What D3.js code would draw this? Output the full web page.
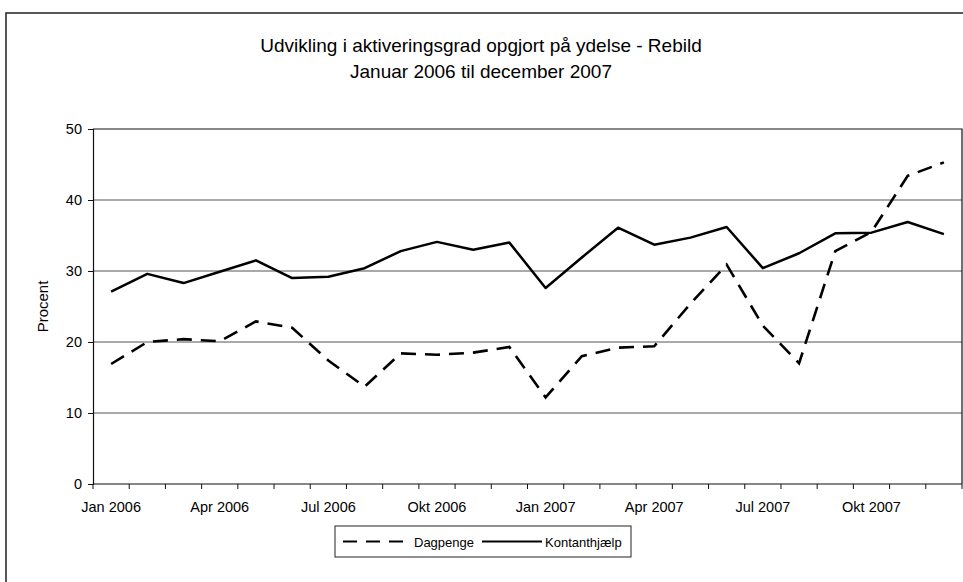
<!DOCTYPE html>
<html>
<head>
<meta charset="utf-8">
<script src="https://cdn.jsdelivr.net/npm/d3@7"></script>
<style>
  html, body { margin: 0; padding: 0; background: #fff; }
  svg { display: block; }
  text { font-family: "Liberation Sans", Arial, sans-serif; fill: #000; }
</style>
</head>
<body>
<svg id="chart" width="963" height="582"></svg>
<script>
// ---- data ----
const months = ["Jan 2006","Feb 2006","Mar 2006","Apr 2006","Maj 2006","Jun 2006",
                "Jul 2006","Aug 2006","Sep 2006","Okt 2006","Nov 2006","Dec 2006",
                "Jan 2007","Feb 2007","Mar 2007","Apr 2007","Maj 2007","Jun 2007",
                "Jul 2007","Aug 2007","Sep 2007","Okt 2007","Nov 2007","Dec 2007"];
const dagpenge = [16.9, 20.0, 20.4, 20.1, 22.9, 22.0, 17.4, 13.7, 18.4, 18.2, 18.5, 19.3,
                  12.2, 18.0, 19.2, 19.4, 25.4, 30.9, 22.3, 17.0, 32.8, 35.5, 43.4, 45.3];
const kontanthjaelp = [27.1, 29.6, 28.3, 29.9, 31.5, 29.0, 29.2, 30.4, 32.8, 34.1, 33.0, 34.0,
                       27.6, 31.9, 36.1, 33.7, 34.7, 36.2, 30.4, 32.5, 35.3, 35.4, 36.9, 35.2];
const xTickLabels = ["Jan 2006","Apr 2006","Jul 2006","Okt 2006","Jan 2007","Apr 2007","Jul 2007","Okt 2007"];
const yTicks = [0, 10, 20, 30, 40, 50];
const seriesNames = ["Dagpenge", "Kontanthjælp"];
const titleLines = ["Udvikling i aktiveringsgrad opgjort på ydelse - Rebild", "Januar 2006 til december 2007"];
const yTitle = "Procent";

// ---- layout ----
const svg = d3.select("#chart");
const plot = { left: 93, right: 962, top: 129, bottom: 484 };
const FONT = "Liberation Sans, Arial, sans-serif";

const x = d3.scaleBand().domain(months).range([plot.left, plot.right]).padding(0);
const y = d3.scaleLinear().domain([0, 50]).range([plot.bottom, plot.top]);
const cx = d => x(d) + x.bandwidth() / 2;

// outer frame
svg.append("path")
  .attr("d", `M6,590 L6,13 L970,13`)
  .attr("fill", "none").attr("stroke", "#222").attr("stroke-width", 1.5);

// title
svg.append("g").selectAll("text").data(titleLines).join("text")
  .attr("x", 481).attr("y", (d, i) => 52 + i * 26)
  .attr("text-anchor", "middle").attr("font-size", 19)
  .text(d => d);

// gridlines
svg.append("g").selectAll("line").data(yTicks.filter(t => t > 0 && t < 50)).join("line")
  .attr("x1", plot.left).attr("x2", plot.right)
  .attr("y1", d => y(d)).attr("y2", d => y(d))
  .attr("stroke", "#555").attr("stroke-width", 1);

// plot frame (top and right)
svg.append("path")
  .attr("d", `M${plot.left},${plot.top} L${plot.right},${plot.top} L${plot.right},${plot.bottom}`)
  .attr("fill", "none").attr("stroke", "#111").attr("stroke-width", 1.2);

// y axis
const yAxis = d3.axisLeft(y).tickValues(yTicks).tickSize(5).tickPadding(6);
const gy = svg.append("g").attr("transform", `translate(${plot.left},0)`).call(yAxis);
gy.select(".domain").attr("stroke", "#111").attr("stroke-width", 1.2);
gy.selectAll(".tick line").attr("stroke", "#111");
gy.selectAll("text").attr("font-size", 14.5).attr("font-family", FONT);

// x axis: labels
const xAxis = d3.axisBottom(x).tickValues(xTickLabels).tickSize(0).tickPadding(18);
const gx = svg.append("g").attr("transform", `translate(0,${plot.bottom})`).call(xAxis);
gx.select(".domain").remove();
gx.selectAll("text").attr("font-size", 14.5).attr("font-family", FONT);

// x axis line and tick marks at category boundaries
svg.append("line").attr("x1", plot.left).attr("x2", plot.right)
  .attr("y1", plot.bottom).attr("y2", plot.bottom)
  .attr("stroke", "#111").attr("stroke-width", 1.2);
const bounds = months.map(m => x(m)).concat([x(months[months.length - 1]) + x.bandwidth()]);
svg.append("g").selectAll("line").data(bounds).join("line")
  .attr("x1", d => d).attr("x2", d => d)
  .attr("y1", plot.bottom).attr("y2", plot.bottom + 5)
  .attr("stroke", "#111");

// y title
svg.append("text")
  .attr("transform", `translate(48,${(plot.top + plot.bottom) / 2}) rotate(-90)`)
  .attr("text-anchor", "middle").attr("font-size", 15)
  .text(yTitle);

// lines
const line = d3.line().x((d, i) => cx(months[i])).y(d => y(d));
svg.append("path").datum(kontanthjaelp)
  .attr("d", line).attr("fill", "none")
  .attr("stroke", "#000").attr("stroke-width", 2.5).attr("stroke-linejoin", "round");
svg.append("path").datum(dagpenge)
  .attr("d", line).attr("fill", "none")
  .attr("stroke", "#000").attr("stroke-width", 2.6)
  .attr("stroke-dasharray", "15,9");

// legend
const lg = svg.append("g");
const lx = 335, ly = 526, lw = 296, lh = 31;
lg.append("rect").attr("x", lx).attr("y", ly).attr("width", lw).attr("height", lh)
  .attr("fill", "#fff").attr("stroke", "#222").attr("stroke-width", 1);
const items = [
  { name: seriesNames[0], dash: "14,9", x0: lx + 8, len: 68 },
  { name: seriesNames[1], dash: null, x0: lx + 147, len: 60 }
];
items.forEach(it => {
  lg.append("line").attr("x1", it.x0).attr("x2", it.x0 + it.len)
    .attr("y1", ly + lh / 2).attr("y2", ly + lh / 2)
    .attr("stroke", "#000").attr("stroke-width", 2)
    .attr("stroke-dasharray", it.dash);
  lg.append("text").attr("x", it.x0 + it.len + 3).attr("y", ly + lh / 2 + 5)
    .attr("font-size", 13).text(it.name);
});
</script>
</body>
</html>
